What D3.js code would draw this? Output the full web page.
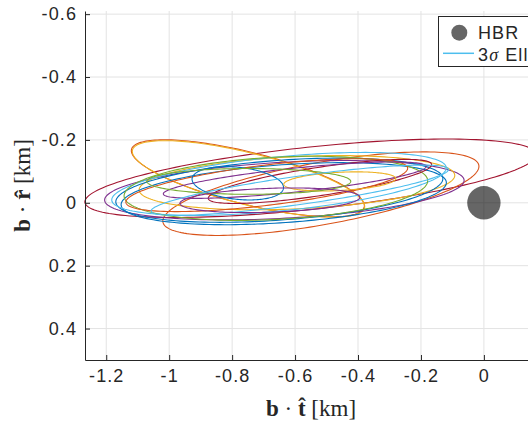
<!doctype html>
<html lang="en">

<head>
    <meta charset="utf-8">
    <script src="https://d3js.org/d3.v7.min.js"></script>
    <title>Ellipses</title>
    <style>
        body { margin: 0; background: #fff; }
        text { fill: #262626; }
        .tick-label { font-family: "Liberation Sans", Arial, sans-serif; font-size: 18px; letter-spacing: 1.1px; }
        .math { font-family: "Liberation Serif", "Times New Roman", serif; font-size: 23px; }
    </style>
</head>

<body>
    <svg id="svg1"></svg>

    <script>
        // ellipse data, km (b.t = x, b.r = y), angle in deg
        const ellCx    = [-0.551, -0.518, -0.750, -0.748, -0.634, -0.594, -0.650, -0.636, -0.651, -0.661, -0.521, -0.690, -0.601, -0.782, -0.458, -0.747, -0.585, -0.680];
        const ellCy    = [-0.078, -0.029, -0.078, -0.076, -0.040, -0.064, -0.040, -0.029, -0.060, -0.046, -0.068, -0.056, -0.072, -0.062, -0.068, -0.068, -0.040, -0.008];
        const ellA     = [0.721, 0.510, 0.381, 0.380, 0.572, 0.502, 0.521, 0.518, 0.534, 0.483, 0.359, 0.451, 0.420, 0.146, 0.178, 0.324, 0.477, 0.286];
        const ellB     = [0.099, 0.099, 0.083, 0.082, 0.089, 0.083, 0.095, 0.092, 0.086, 0.099, 0.045, 0.064, 0.038, 0.051, 0.029, 0.041, 0.045, 0.038];
        const ellAngle = [-6.1, -10.2, 14, 14, -3.2, -2.7, -4.2, -4, -5.6, -3, -8.7, -7, -6, 6, -3, 0, -8, -2];
        const ellColor = [6, 1, 1, 2, 3, 2, 0, 0, 5, 4, 6, 1, 3, 0, 2, 4, 5, 3];

        const palette = ["#0072BD", "#D95319", "#EDB120", "#7E2F8E", "#77AC30", "#4DBEEE", "#A2142F"];

        const hbrCenter = [0, 0];
        const hbrRadius = 0.053;

        const xTicks = [-1.2, -1, -0.8, -0.6, -0.4, -0.2, 0];
        const yTicks = [-0.6, -0.4, -0.2, 0, 0.2, 0.4];

        let width = 528, height = 423;
        let plot = { left: 85, top: 11, right: 537.4, bottom: 360 };

        let svg = d3.select("#svg1").attr("width", width).attr("height", height);

        let xScale = d3.scaleLinear().domain([-1.2675, 0.17]).range([plot.left, plot.right]);
        let yScale = d3.scaleLinear().domain([-0.61, 0.5]).range([plot.top, plot.bottom]);

        // grid
        let grid = svg.append("g");
        grid.selectAll("line.gx")
            .data(xTicks)
            .join("line")
            .attr("class", "gx")
            .attr("x1", d => xScale(d)).attr("x2", d => xScale(d))
            .attr("y1", plot.top).attr("y2", plot.bottom)
            .attr("stroke", "#e3e3e3").attr("stroke-width", 1);
        grid.selectAll("line.gy")
            .data(yTicks)
            .join("line")
            .attr("class", "gy")
            .attr("x1", plot.left).attr("x2", plot.right)
            .attr("y1", d => yScale(d)).attr("y2", d => yScale(d))
            .attr("stroke", "#e3e3e3").attr("stroke-width", 1);

        // HBR
        svg.append("circle")
            .attr("cx", xScale(hbrCenter[0]))
            .attr("cy", yScale(hbrCenter[1]))
            .attr("r", xScale(hbrRadius) - xScale(0))
            .attr("fill", "#000")
            .attr("fill-opacity", 0.6);

        // ellipses
        const ellipses = ellCx.map((cx, i) => ({
            cx: cx, cy: ellCy[i], a: ellA[i], b: ellB[i], th: ellAngle[i] * Math.PI / 180, c: palette[ellColor[i]]
        }));

        const line = d3.line()
            .x(p => xScale(p[0]))
            .y(p => yScale(p[1]))
            .curve(d3.curveLinearClosed);

        function ellipsePoints(e) {
            const pts = [];
            for (let k = 0; k < 180; k++) {
                const t = 2 * Math.PI * k / 180;
                const u = e.a * Math.cos(t), v = e.b * Math.sin(t);
                pts.push([e.cx + u * Math.cos(e.th) - v * Math.sin(e.th),
                          e.cy + u * Math.sin(e.th) + v * Math.cos(e.th)]);
            }
            return pts;
        }

        svg.append("g").selectAll("path")
            .data(ellipses)
            .join("path")
            .attr("d", d => line(ellipsePoints(d)))
            .attr("fill", "none")
            .attr("stroke", d => d.c)
            .attr("stroke-width", 1.1);

        // axes
        const fmt = d => d3.format("")(d).replace("−", "-");
        let xAxis = svg.append("g").attr("transform", `translate(0, ${plot.bottom})`);
        xAxis.call(d3.axisBottom(xScale).tickValues(xTicks).tickSizeInner(-5).tickSizeOuter(0).tickPadding(9).tickFormat(fmt));
        let yAxis = svg.append("g").attr("transform", `translate(${plot.left}, 0)`);
        yAxis.call(d3.axisLeft(yScale).tickValues(yTicks).tickSizeInner(-5).tickSizeOuter(0).tickPadding(8).tickFormat(fmt));

        [xAxis, yAxis].forEach(ax => {
            ax.attr("font-family", null).attr("font-size", null);
            ax.select(".domain").attr("stroke", "#262626").attr("stroke-width", 1);
            ax.selectAll(".tick line").attr("stroke", "#262626");
            ax.selectAll(".tick text").attr("class", "tick-label").attr("fill", "#262626");
        });

        // axis labels
        let xl = svg.append("text").attr("class", "math")
            .attr("x", 311).attr("y", 416).attr("text-anchor", "middle");
        xl.append("tspan").attr("font-weight", "bold").text("b");
        xl.append("tspan").text(" · ");
        xl.append("tspan").attr("font-weight", "bold").text("t\u0302");
        xl.append("tspan").text(" [km]");

        let yl = svg.append("text").attr("class", "math")
            .attr("transform", "translate(30, 185.5) rotate(-90)").attr("text-anchor", "middle");
        yl.append("tspan").attr("font-weight", "bold").text("b");
        yl.append("tspan").text(" · ");
        yl.append("tspan").attr("font-weight", "bold").text("r\u0302");
        yl.append("tspan").text(" [km]");

        // legend
        let legend = svg.append("g");
        legend.append("rect")
            .attr("x", 438.5).attr("y", 16.5).attr("width", 150).attr("height", 50)
            .attr("fill", "#fff").attr("stroke", "#262626").attr("stroke-width", 1);
        legend.append("circle")
            .attr("cx", 459.3).attr("cy", 32.7).attr("r", 8)
            .attr("fill", "#000").attr("fill-opacity", 0.6);
        legend.append("text").attr("class", "tick-label")
            .attr("x", 478).attr("y", 38.5).text("HBR");
        legend.append("line")
            .attr("x1", 443).attr("x2", 474).attr("y1", 53.3).attr("y2", 53.3)
            .attr("stroke", palette[5]).attr("stroke-width", 1.5);
        let lt = legend.append("text").attr("class", "tick-label")
            .attr("x", 478).attr("y", 60.5);
        lt.append("tspan").text("3");
        lt.append("tspan").attr("font-family", "Liberation Serif, serif").attr("font-style", "italic").text("σ");
        lt.append("tspan").text(" Ellipses");
    </script>

</body>

</html>
